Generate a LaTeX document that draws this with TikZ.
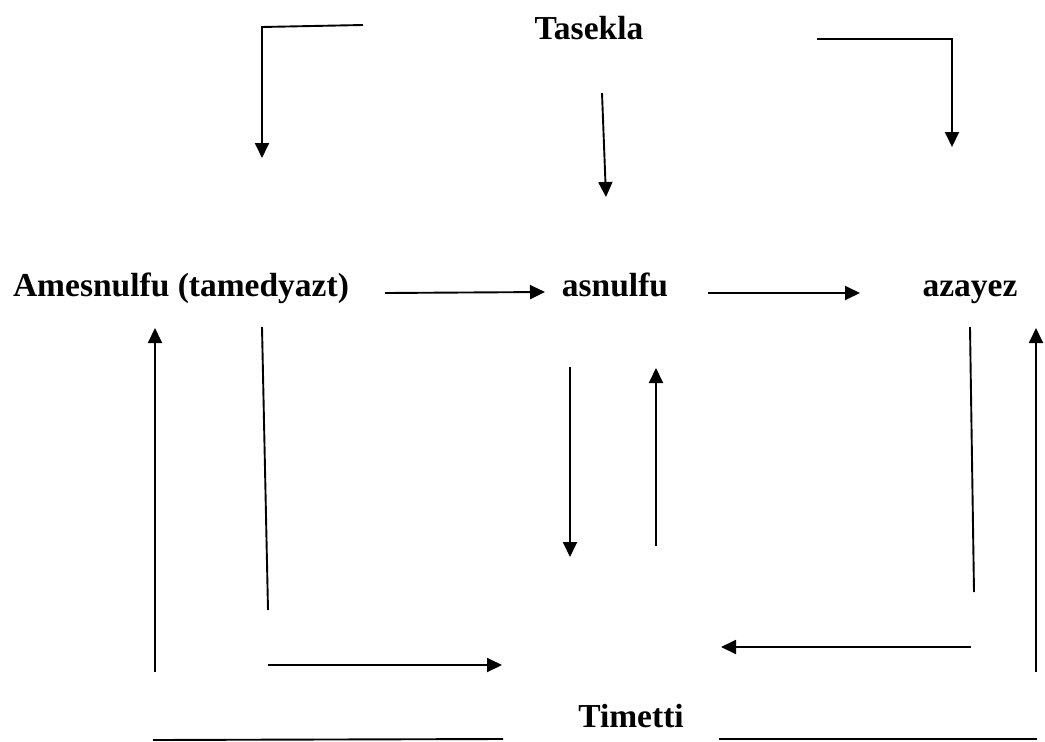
\documentclass[tikz,border=0pt]{standalone}
\usepackage{fontspec}
\setmainfont{Liberation Serif}
\usetikzlibrary{arrows.meta}
\begin{document}
\begin{tikzpicture}[x=1pt,y=-1pt,
  lbl/.style={inner sep=0pt,anchor=base,font=\fontsize{33.5}{40}\selectfont\bfseries},
  conn/.style={line width=1.9pt},
  arr/.style={conn,-{Triangle[length=15pt,width=14pt]}}]
\useasboundingbox (0,0) rectangle (1045,742);
% labels
\node[lbl] (tasekla) at (589,39) {Tasekla};
\node[lbl] (amesnulfu) at (181,296) {Amesnulfu (tamedyazt)};
\node[lbl] (asnulfu) at (615,296) {asnulfu};
\node[lbl] (azayez) at (970,296) {azayez};
\node[lbl] (timetti) at (631,727) {Timetti};
% endpoints
\coordinate (tl0) at (363,25);
\coordinate (tl1) at (262,27);
\coordinate (tl2) at (262,158);
\coordinate (tr0) at (817,39);
\coordinate (tr1) at (952,39);
\coordinate (tr2) at (952,147);
\coordinate (tm0) at (602,93);
\coordinate (tm1) at (606,197);
\coordinate (ma0) at (385,293);
\coordinate (ma1) at (545,292);
\coordinate (mb0) at (708,293);
\coordinate (mb1) at (860,293);
\coordinate (lu0) at (155,672);
\coordinate (lu1) at (155,328);
\coordinate (ls0) at (262,327);
\coordinate (ls1) at (268,610);
\coordinate (lb0) at (268,665);
\coordinate (lb1) at (502,665);
\coordinate (bl0) at (153,740);
\coordinate (bl1) at (503,739);
\coordinate (cd0) at (570,367);
\coordinate (cd1) at (570,557);
\coordinate (cu0) at (656,546);
\coordinate (cu1) at (656,368);
\coordinate (rs0) at (970,327);
\coordinate (rs1) at (974,592);
\coordinate (ru0) at (1036,672);
\coordinate (ru1) at (1036,328);
\coordinate (rl0) at (971,647);
\coordinate (rl1) at (721,647);
\coordinate (br0) at (719,739);
\coordinate (br1) at (1037,739);
% connectors
\draw[arr] (tl0) -- (tl1) -- (tl2);
\draw[arr] (tr0) -- (tr1) -- (tr2);
\draw[arr] (tm0) -- (tm1);
\draw[arr] (ma0) -- (ma1);
\draw[arr] (mb0) -- (mb1);
\draw[arr] (lu0) -- (lu1);
\draw[conn] (ls0) -- (ls1);
\draw[arr] (lb0) -- (lb1);
\draw[conn] (bl0) -- (bl1);
\draw[arr] (cd0) -- (cd1);
\draw[arr] (cu0) -- (cu1);
\draw[conn] (rs0) -- (rs1);
\draw[arr] (ru0) -- (ru1);
\draw[arr] (rl0) -- (rl1);
\draw[conn] (br0) -- (br1);
\end{tikzpicture}
\end{document}
